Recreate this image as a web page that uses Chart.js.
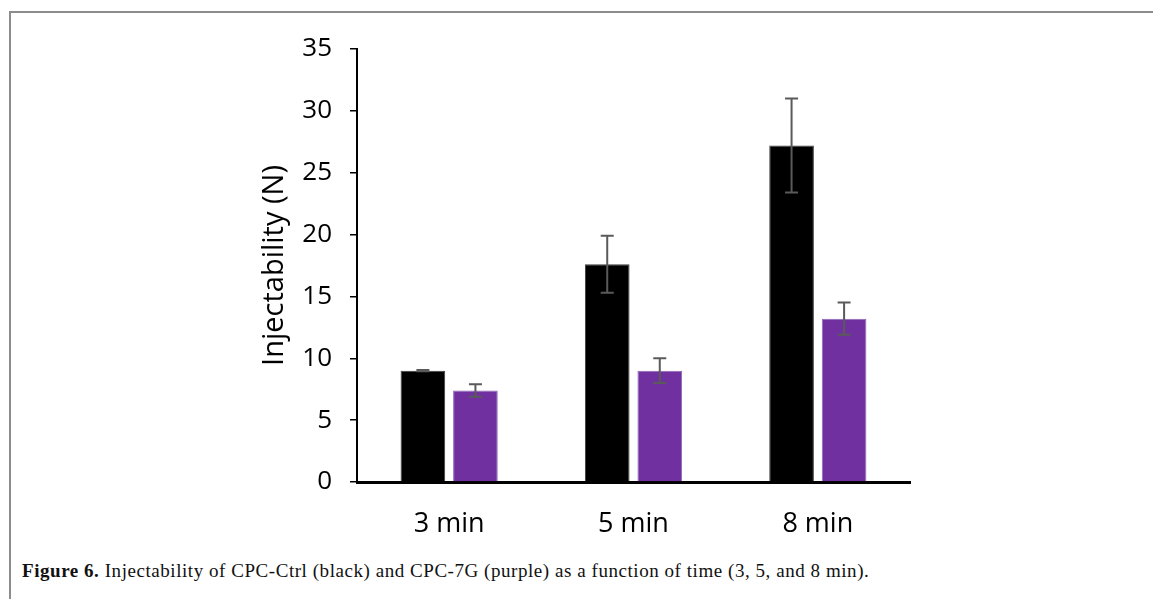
<!DOCTYPE html>
<html>
<head>
<meta charset="utf-8">
<script src="https://cdn.jsdelivr.net/npm/chart.js@4.4.1/dist/chart.umd.min.js"></script>
<style>
  html, body { margin: 0; padding: 0; background: #fff; }
  #page { position: relative; width: 1153px; height: 599px; overflow: hidden; }
  #frame {
    position: absolute; left: 9px; top: 11px; width: 1160px; height: 620px;
    border-left: 2px solid #8c8c8c; border-top: 2px solid #8c8c8c;
  }
  #chartBox { position: absolute; left: 0; top: 0; width: 1153px; height: 560px; }
  #caption {
    position: absolute; left: 22px; top: 560px;
    font-family: "Liberation Serif", serif; font-size: 19px; color: #111;
    letter-spacing: 0.55px; white-space: nowrap;
  }
  #caption b { font-weight: bold; }
</style>
</head>
<body>
<div id="page">
  <div id="frame"></div>
  <div id="chartBox"><canvas id="barChart" width="1153" height="560"></canvas></div>
  <div id="caption"><b>Figure 6.</b> Injectability of CPC-Ctrl (black) and CPC-7G (purple) as a function of time (3, 5, and 8&nbsp;min).</div>
</div>
<script>
// injection times
const categories = ['3 min', '5 min', '8 min'];

// CPC-Ctrl (black)
const ctrlValues = [9.0, 17.6, 27.2];
const ctrlErrors = [0.05, 2.3, 3.8];

// CPC-7G (purple)
const g7Values = [7.4, 9.0, 13.2];
const g7Errors = [0.5, 1.0, 1.3];

const yTicks = [0, 5, 10, 15, 20, 25, 30, 35];

// draws +/- error whiskers on top of each bar
const errorBars = {
  id: 'errorBars',
  afterDatasetsDraw(chart) {
    const ctx = chart.ctx;
    const y = chart.scales.y;
    ctx.save();
    ctx.strokeStyle = '#5a5a5a';
    ctx.lineWidth = 2;
    chart.data.datasets.forEach((ds, i) => {
      const meta = chart.getDatasetMeta(i);
      meta.data.forEach((bar, j) => {
        const v = ds.data[j];
        const e = ds.errors[j];
        const top = y.getPixelForValue(v + e);
        const bot = y.getPixelForValue(v - e);
        const x = bar.x;
        const cap = 6.5;
        ctx.beginPath();
        ctx.moveTo(x, top); ctx.lineTo(x, bot);
        ctx.moveTo(x - cap, top); ctx.lineTo(x + cap, top);
        ctx.moveTo(x - cap, bot); ctx.lineTo(x + cap, bot);
        ctx.stroke();
      });
    });
    ctx.restore();
  }
};

const ctx = document.getElementById('barChart').getContext('2d');
new Chart(ctx, {
  type: 'bar',
  data: {
    labels: categories,
    datasets: [
      {
        label: 'CPC-Ctrl',
        data: ctrlValues,
        errors: ctrlErrors,
        backgroundColor: '#000000',
        borderColor: '#3c3c3c',
        borderWidth: 1
      },
      {
        label: 'CPC-7G',
        data: g7Values,
        errors: g7Errors,
        backgroundColor: '#7030a0',
        borderColor: '#8f66b8',
        borderWidth: 1
      }
    ]
  },
  options: {
    responsive: false,
    animation: false,
    devicePixelRatio: 1,
    categoryPercentage: 0.57,
    barPercentage: 0.85,
    layout: { padding: { left: 255, right: 243, top: 49, bottom: 18 } },
    plugins: {
      legend: { display: false },
      tooltip: { enabled: false }
    },
    scales: {
      x: {
        grid: { display: false, drawTicks: false },
        border: { display: true, color: '#000', width: 3 },
        ticks: {
          color: '#000',
          padding: 26,
          font: { family: 'Open Sans', size: 27 }
        },
        afterFit(scale) { scale.height = 60; }
      },
      y: {
        min: 0,
        max: 35,
        afterBuildTicks(scale) { scale.ticks = yTicks.map(v => ({ value: v })); },
        grid: { drawOnChartArea: false, drawTicks: true, tickLength: 7, color: '#000', lineWidth: 1.5 },
        border: { display: true, color: '#000', width: 2 },
        ticks: {
          color: '#000',
          padding: 18,
          font: { family: 'Open Sans', size: 26 }
        },
        title: {
          display: true,
          text: 'Injectability (N)',
          color: '#000',
          padding: { top: 2, bottom: 4 },
          font: { family: 'Open Sans', size: 29 }
        },
        afterFit(scale) { scale.width = 102; }
      }
    }
  },
  plugins: [errorBars]
});
</script>
</body>
</html>
